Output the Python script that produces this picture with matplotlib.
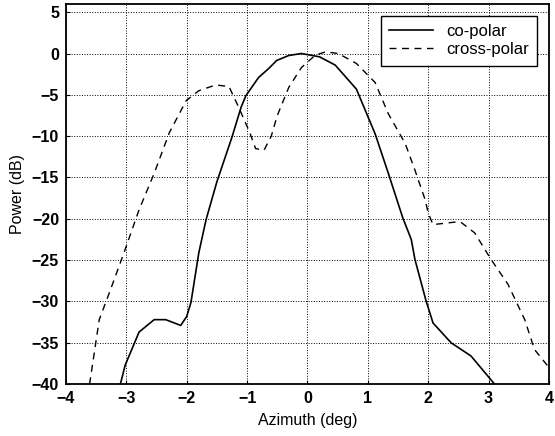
import matplotlib.pyplot as plt

plt.rcParams['font.family'] = ['Liberation Sans', 'DejaVu Sans']

# co-polar pattern (deg, dB)
co_az = [-3.1, -3.02, -2.79, -2.54, -2.35, -2.1, -2.0, -1.93, -1.8, -1.68,
         -1.5, -1.25, -1.1, -1.02, -0.81, -0.64, -0.51, -0.31, -0.1, 0.2,
         0.46, 0.81, 1.12, 1.34, 1.58, 1.72, 1.78, 1.96, 2.08, 2.38, 2.71, 3.1]
co_db = [-40, -37.7, -33.7, -32.2, -32.2, -32.9, -31.8, -30.1, -24.1, -20.1,
         -15.5, -10.1, -6.5, -5.1, -2.9, -1.8, -0.84, -0.24, 0.0, -0.4,
         -1.4, -4.3, -9.7, -14.5, -19.9, -22.5, -24.9, -29.8, -32.6, -35.0, -36.6, -40]

# cross-polar pattern (deg, dB)
x_az = [-3.61, -3.45, -3.28, -3.04, -2.79, -2.54, -2.29, -2.01, -1.8, -1.52,
        -1.3, -1.14, -0.96, -0.86, -0.72, -0.6, -0.5, -0.31, -0.1, 0.13,
        0.3, 0.51, 0.81, 1.12, 1.34, 1.62, 1.78, 1.95, 2.0, 2.08, 2.44, 2.54,
        2.77, 3.04, 3.32, 3.6, 3.76, 3.98]
x_db = [-40, -32.2, -28.9, -24.1, -18.9, -14.5, -9.6, -5.7, -4.5, -3.8,
        -4.0, -6.5, -9.5, -11.5, -11.7, -10.0, -7.5, -4.1, -1.7, -0.2,
        0.2, 0.0, -1.2, -3.5, -7.3, -10.9, -14.1, -17.7, -19.3, -20.7, -20.4, -20.4,
        -21.7, -24.9, -27.9, -32.2, -35.8, -37.8]

fig = plt.figure(figsize=(5.55, 4.36), dpi=100)
ax = fig.add_axes([0.119, 0.119, 0.870, 0.872])

ax.plot(co_az, co_db, color='black', lw=1.2, label='co-polar')
ax.plot(x_az, x_db, color='black', lw=1.0, ls=(0, (5, 4)), label='cross-polar')

ax.set_xlim(-4, 4)
ax.set_ylim(-40, 6)
ax.set_xticks(range(-4, 5))
ax.set_yticks(range(-40, 6, 5))
ax.grid(True, color='black', ls=':', lw=0.7)
ax.tick_params(direction='in', length=3, labelsize=11.5, pad=5)
for lab in ax.get_xticklabels() + ax.get_yticklabels():
    lab.set_fontweight('bold')
for s in ax.spines.values():
    s.set_linewidth(1.3)

ax.set_xlabel('Azimuth (deg)', fontsize=11.5, labelpad=5)
ax.set_ylabel('Power (dB)', fontsize=11.5, labelpad=5)

leg = ax.legend(loc='upper right', fontsize=12, fancybox=False, framealpha=1,
                edgecolor='black', borderaxespad=0.7, handlelength=2.6,
                handletextpad=0.8, borderpad=0.5, labelspacing=0.2)
leg.get_frame().set_linewidth(1.0)

fig.savefig('out.png', dpi=100)
